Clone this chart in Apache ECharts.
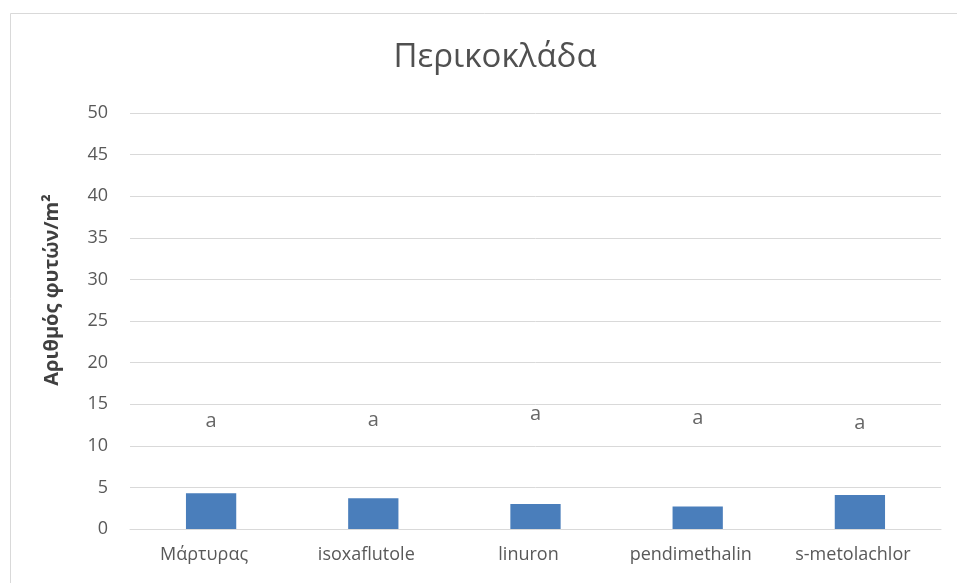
<!DOCTYPE html>
<html>
<head>
<meta charset="utf-8">
<script src="https://cdn.jsdelivr.net/npm/echarts@6/dist/echarts.min.js"></script>
<style>
  html, body { margin: 0; padding: 0; background: #ffffff; }
  #chart { width: 957px; height: 583px; }
</style>
</head>
<body>
<div id="chart"></div>
<script>
// Weed density per herbicide treatment
const categories = ['Μάρτυρας', 'isoxaflutole', 'linuron', 'pendimethalin', 's-metolachlor'];
const plantDensity = [4.3, 3.7, 3.0, 2.7, 4.1];
// Significance letters and the height at which each one sits
const letters = ['a', 'a', 'a', 'a', 'a'];
const letterPos = [12.9, 13.1, 13.8, 13.3, 12.7];
const yTicks = { min: 0, max: 50, interval: 5 };

const fontFamily = '"Open Sans", "Noto Sans", sans-serif';
const chart = echarts.init(document.getElementById('chart'), null, { renderer: 'canvas' });

chart.setOption({
  backgroundColor: '#ffffff',
  animation: false,
  title: {
    text: 'Περικοκλάδα',
    left: 490,
    textAlign: 'center',
    top: 36,
    textStyle: { fontFamily, fontSize: 33, fontWeight: 'normal', color: '#505050' }
  },
  graphic: [{
    type: 'rect',
    shape: { x: 10.5, y: 13.5, width: 960, height: 600 },
    style: { fill: 'none', stroke: '#d9d9d9', lineWidth: 1 },
    silent: true
  }],
  grid: { left: 130, right: 16, top: 113, bottom: 54 },
  xAxis: {
    type: 'category',
    data: categories,
    axisLine: { show: true, lineStyle: { color: '#d9d9d9' } },
    axisTick: { show: false },
    axisLabel: {
      fontFamily, fontSize: 18, color: '#595959', margin: 17,
      padding: [0, 14, 0, 0]
    }
  },
  yAxis: {
    type: 'value',
    min: yTicks.min,
    max: yTicks.max,
    interval: yTicks.interval,
    name: 'Αριθμός φυτών/m²',
    nameLocation: 'middle',
    nameGap: 68,
    nameTextStyle: {
      fontFamily, fontSize: 20, fontWeight: 'bold', color: '#404040',
      padding: [0, 0, 0, 62]
    },
    axisLine: { show: false },
    axisTick: { show: false },
    axisLabel: { fontFamily, fontSize: 18, color: '#595959', margin: 22 },
    splitLine: { lineStyle: { color: '#d9d9d9', width: 1 } }
  },
  series: [
    {
      type: 'bar',
      data: plantDensity,
      barWidth: '31%',
      itemStyle: { color: '#4a7ebb' }
    },
    {
      type: 'scatter',
      data: letterPos.map((v, i) => ({ value: v, label: { formatter: letters[i] } })),
      symbolSize: 0,
      silent: true,
      label: {
        show: true,
        position: 'inside',
        fontFamily,
        fontSize: 20,
        color: '#404040'
      }
    }
  ]
});
</script>
</body>
</html>
